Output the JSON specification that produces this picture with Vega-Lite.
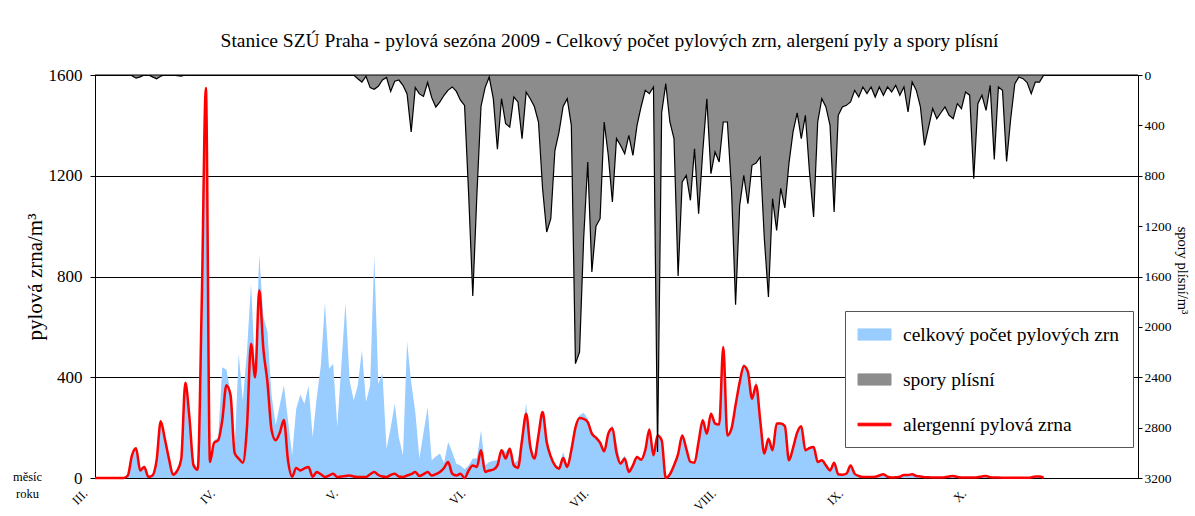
{
"$schema": "https://vega.github.io/schema/vega-lite/v6.json",
"width": 1043, "height": 403,
"autosize": {"type": "none"},
"padding": {"left": 95, "top": 75, "right": 57, "bottom": 38},
"background": "white",
"title": {"text": "Stanice SZÚ Praha - pylová sezóna 2009 - Celkový počet pylových zrn, alergení pyly a spory plísní", "font": "Liberation Serif", "fontSize": 19.5, "fontWeight": "normal", "color": "black", "anchor": "middle", "frame": "group", "offset": 15, "dx": -7},
"config": {
  "view": {"stroke": "black", "strokeWidth": 1},
  "axis": {"labelFont": "Liberation Serif", "titleFont": "Liberation Serif", "labelColor": "black", "titleColor": "black", "titleFontWeight": "normal", "domainColor": "black", "tickColor": "black"}
},
"data": {"values": [
{"date":"2009-03-01","t":0,"a":0,"m":0},{"date":"2009-03-02","t":0,"a":0,"m":0},{"date":"2009-03-03","t":0,"a":0,"m":0},{"date":"2009-03-04","t":0,"a":0,"m":0},{"date":"2009-03-05","t":0,"a":0,"m":0},{"date":"2009-03-06","t":0,"a":0,"m":0},{"date":"2009-03-07","t":0,"a":0,"m":0},{"date":"2009-03-08","t":0,"a":0,"m":0},
{"date":"2009-03-09","t":15,"a":10,"m":0},{"date":"2009-03-10","t":100,"a":90,"m":5},{"date":"2009-03-11","t":125,"a":118,"m":25},{"date":"2009-03-12","t":40,"a":30,"m":15},{"date":"2009-03-13","t":50,"a":44,"m":0},{"date":"2009-03-14","t":10,"a":4,"m":0},{"date":"2009-03-15","t":15,"a":10,"m":15},{"date":"2009-03-16","t":78,"a":70,"m":30},{"date":"2009-03-17","t":232,"a":225,"m":10},{"date":"2009-03-18","t":165,"a":156,"m":0},{"date":"2009-03-19","t":85,"a":77,"m":0},{"date":"2009-03-20","t":20,"a":13,"m":0},{"date":"2009-03-21","t":35,"a":28,"m":5},{"date":"2009-03-22","t":85,"a":75,"m":10},{"date":"2009-03-23","t":385,"a":378,"m":0},{"date":"2009-03-24","t":250,"a":240,"m":0},{"date":"2009-03-25","t":60,"a":50,"m":0},{"date":"2009-03-26","t":40,"a":33,"m":0},{"date":"2009-03-27","t":720,"a":700,"m":0},{"date":"2009-03-28","t":1550,"a":1548,"m":0},{"date":"2009-03-29","t":75,"a":64,"m":0},{"date":"2009-03-30","t":150,"a":140,"m":0},{"date":"2009-03-31","t":160,"a":150,"m":0},
{"date":"2009-04-01","t":440,"a":230,"m":0},{"date":"2009-04-02","t":430,"a":368,"m":0},{"date":"2009-04-03","t":340,"a":330,"m":0},{"date":"2009-04-04","t":110,"a":100,"m":0},{"date":"2009-04-05","t":493,"a":77,"m":0},{"date":"2009-04-06","t":308,"a":61,"m":0},{"date":"2009-04-07","t":500,"a":200,"m":0},{"date":"2009-04-08","t":771,"a":533,"m":0},{"date":"2009-04-09","t":420,"a":400,"m":0},{"date":"2009-04-10","t":886,"a":745,"m":0},{"date":"2009-04-11","t":640,"a":513,"m":0},{"date":"2009-04-12","t":580,"a":380,"m":0},{"date":"2009-04-13","t":330,"a":190,"m":0},{"date":"2009-04-14","t":209,"a":150,"m":0},{"date":"2009-04-15","t":290,"a":180,"m":0},{"date":"2009-04-16","t":368,"a":230,"m":0},{"date":"2009-04-17","t":230,"a":70,"m":0},{"date":"2009-04-18","t":90,"a":5,"m":0},{"date":"2009-04-19","t":275,"a":40,"m":0},{"date":"2009-04-20","t":331,"a":30,"m":0},{"date":"2009-04-21","t":295,"a":38,"m":0},{"date":"2009-04-22","t":365,"a":44,"m":0},{"date":"2009-04-23","t":163,"a":5,"m":0},{"date":"2009-04-24","t":320,"a":24,"m":0},{"date":"2009-04-25","t":447,"a":15,"m":0},{"date":"2009-04-26","t":696,"a":4,"m":0},{"date":"2009-04-27","t":434,"a":10,"m":0},{"date":"2009-04-28","t":454,"a":17,"m":0},{"date":"2009-04-29","t":202,"a":4,"m":0},{"date":"2009-04-30","t":450,"a":6,"m":0},
{"date":"2009-05-01","t":696,"a":8,"m":0},{"date":"2009-05-02","t":388,"a":10,"m":0},{"date":"2009-05-03","t":308,"a":6,"m":0},{"date":"2009-05-04","t":368,"a":4,"m":30},{"date":"2009-05-05","t":507,"a":4,"m":56},{"date":"2009-05-06","t":302,"a":4,"m":10},{"date":"2009-05-07","t":368,"a":15,"m":100},{"date":"2009-05-08","t":884,"a":24,"m":114},{"date":"2009-05-09","t":374,"a":12,"m":90},{"date":"2009-05-10","t":414,"a":6,"m":40},{"date":"2009-05-11","t":116,"a":4,"m":20},{"date":"2009-05-12","t":200,"a":12,"m":130},{"date":"2009-05-13","t":295,"a":17,"m":50},{"date":"2009-05-14","t":160,"a":6,"m":40},{"date":"2009-05-15","t":90,"a":4,"m":82},{"date":"2009-05-16","t":542,"a":10,"m":150},{"date":"2009-05-17","t":380,"a":15,"m":453},{"date":"2009-05-18","t":262,"a":24,"m":100},{"date":"2009-05-19","t":77,"a":8,"m":150},{"date":"2009-05-20","t":180,"a":15,"m":170},{"date":"2009-05-21","t":282,"a":24,"m":60},{"date":"2009-05-22","t":70,"a":10,"m":180},{"date":"2009-05-23","t":85,"a":15,"m":254},{"date":"2009-05-24","t":97,"a":24,"m":214},{"date":"2009-05-25","t":60,"a":40,"m":161},{"date":"2009-05-26","t":143,"a":64,"m":120},{"date":"2009-05-27","t":103,"a":17,"m":95},{"date":"2009-05-28","t":57,"a":10,"m":130},{"date":"2009-05-29","t":50,"a":17,"m":200},{"date":"2009-05-30","t":35,"a":0,"m":241},{"date":"2009-05-31","t":50,"a":30,"m":950},
{"date":"2009-06-01","t":77,"a":50,"m":1755},{"date":"2009-06-02","t":77,"a":44,"m":950},{"date":"2009-06-03","t":189,"a":110,"m":250},{"date":"2009-06-04","t":50,"a":24,"m":100},{"date":"2009-06-05","t":64,"a":30,"m":16},{"date":"2009-06-06","t":68,"a":33,"m":188},{"date":"2009-06-07","t":70,"a":50,"m":590},{"date":"2009-06-08","t":116,"a":110,"m":188},{"date":"2009-06-09","t":103,"a":77,"m":386},{"date":"2009-06-10","t":123,"a":116,"m":413},{"date":"2009-06-11","t":60,"a":50,"m":175},{"date":"2009-06-12","t":70,"a":40,"m":214},{"date":"2009-06-13","t":183,"a":150,"m":505},{"date":"2009-06-14","t":295,"a":255,"m":135},{"date":"2009-06-15","t":135,"a":125,"m":188},{"date":"2009-06-16","t":90,"a":77,"m":250},{"date":"2009-06-17","t":180,"a":170,"m":373},{"date":"2009-06-18","t":265,"a":262,"m":903},{"date":"2009-06-19","t":156,"a":143,"m":1247},{"date":"2009-06-20","t":90,"a":85,"m":1141},{"date":"2009-06-21","t":55,"a":50,"m":600},{"date":"2009-06-22","t":44,"a":37,"m":453},{"date":"2009-06-23","t":103,"a":79,"m":250},{"date":"2009-06-24","t":50,"a":44,"m":188},{"date":"2009-06-25","t":130,"a":110,"m":400},{"date":"2009-06-26","t":210,"a":200,"m":2292},{"date":"2009-06-27","t":249,"a":238,"m":2200},{"date":"2009-06-28","t":259,"a":235,"m":1300},{"date":"2009-06-29","t":235,"a":222,"m":691},{"date":"2009-06-30","t":183,"a":176,"m":1564},
{"date":"2009-07-01","t":165,"a":160,"m":1200},{"date":"2009-07-02","t":145,"a":140,"m":1141},{"date":"2009-07-03","t":115,"a":106,"m":373},{"date":"2009-07-04","t":183,"a":176,"m":638},{"date":"2009-07-05","t":209,"a":198,"m":1008},{"date":"2009-07-06","t":140,"a":100,"m":505},{"date":"2009-07-07","t":64,"a":57,"m":560},{"date":"2009-07-08","t":90,"a":77,"m":625},{"date":"2009-07-09","t":37,"a":24,"m":479},{"date":"2009-07-10","t":50,"a":50,"m":638},{"date":"2009-07-11","t":90,"a":83,"m":400},{"date":"2009-07-12","t":75,"a":72,"m":250},{"date":"2009-07-13","t":120,"a":110,"m":122},{"date":"2009-07-14","t":202,"a":193,"m":148},{"date":"2009-07-15","t":90,"a":90,"m":95},{"date":"2009-07-16","t":176,"a":169,"m":2994},{"date":"2009-07-17","t":156,"a":150,"m":300},{"date":"2009-07-18","t":4,"a":0,"m":69},{"date":"2009-07-19","t":20,"a":15,"m":373},{"date":"2009-07-20","t":50,"a":50,"m":505},{"date":"2009-07-21","t":100,"a":95,"m":1596},{"date":"2009-07-22","t":176,"a":169,"m":850},{"date":"2009-07-23","t":123,"a":116,"m":797},{"date":"2009-07-24","t":64,"a":64,"m":995},{"date":"2009-07-25","t":64,"a":61,"m":585},{"date":"2009-07-26","t":150,"a":145,"m":1101},{"date":"2009-07-27","t":235,"a":229,"m":611},{"date":"2009-07-28","t":183,"a":176,"m":188},{"date":"2009-07-29","t":262,"a":255,"m":783},{"date":"2009-07-30","t":222,"a":216,"m":611},{"date":"2009-07-31","t":216,"a":212,"m":691},
{"date":"2009-08-01","t":520,"a":520,"m":373},{"date":"2009-08-02","t":169,"a":169,"m":373},{"date":"2009-08-03","t":202,"a":196,"m":903},{"date":"2009-08-04","t":300,"a":290,"m":1824},{"date":"2009-08-05","t":400,"a":380,"m":1035},{"date":"2009-08-06","t":455,"a":445,"m":797},{"date":"2009-08-07","t":430,"a":421,"m":1022},{"date":"2009-08-08","t":321,"a":315,"m":717},{"date":"2009-08-09","t":388,"a":368,"m":700},{"date":"2009-08-10","t":235,"a":229,"m":651},{"date":"2009-08-11","t":110,"a":97,"m":1300},{"date":"2009-08-12","t":156,"a":156,"m":1763},{"date":"2009-08-13","t":116,"a":110,"m":982},{"date":"2009-08-14","t":216,"a":216,"m":1234},{"date":"2009-08-15","t":216,"a":216,"m":900},{"date":"2009-08-16","t":209,"a":206,"m":1056},{"date":"2009-08-17","t":75,"a":70,"m":700},{"date":"2009-08-18","t":130,"a":120,"m":450},{"date":"2009-08-19","t":185,"a":180,"m":300},{"date":"2009-08-20","t":205,"a":205,"m":505},{"date":"2009-08-21","t":115,"a":110,"m":320},{"date":"2009-08-22","t":122,"a":119,"m":770},{"date":"2009-08-23","t":125,"a":123,"m":1128},{"date":"2009-08-24","t":66,"a":64,"m":373},{"date":"2009-08-25","t":72,"a":70,"m":188},{"date":"2009-08-26","t":52,"a":50,"m":254},{"date":"2009-08-27","t":32,"a":30,"m":400},{"date":"2009-08-28","t":62,"a":61,"m":1088},{"date":"2009-08-29","t":17,"a":15,"m":320},{"date":"2009-08-30","t":15,"a":13,"m":254},{"date":"2009-08-31","t":20,"a":17,"m":241},
{"date":"2009-09-01","t":52,"a":50,"m":214},{"date":"2009-09-02","t":20,"a":17,"m":122},{"date":"2009-09-03","t":10,"a":8,"m":175},{"date":"2009-09-04","t":6,"a":4,"m":95},{"date":"2009-09-05","t":6,"a":4,"m":148},{"date":"2009-09-06","t":5,"a":4,"m":95},{"date":"2009-09-07","t":6,"a":5,"m":175},{"date":"2009-09-08","t":10,"a":10,"m":95},{"date":"2009-09-09","t":16,"a":15,"m":161},{"date":"2009-09-10","t":7,"a":5,"m":95},{"date":"2009-09-11","t":4,"a":2,"m":135},{"date":"2009-09-12","t":4,"a":3,"m":82},{"date":"2009-09-13","t":6,"a":5,"m":161},{"date":"2009-09-14","t":13,"a":12,"m":95},{"date":"2009-09-15","t":13,"a":12,"m":294},{"date":"2009-09-16","t":15,"a":15,"m":56},{"date":"2009-09-17","t":9,"a":8,"m":120},{"date":"2009-09-18","t":7,"a":6,"m":250},{"date":"2009-09-19","t":4,"a":3,"m":559},{"date":"2009-09-20","t":4,"a":3,"m":413},{"date":"2009-09-21","t":3,"a":2,"m":267},{"date":"2009-09-22","t":3,"a":2,"m":347},{"date":"2009-09-23","t":3,"a":2,"m":300},{"date":"2009-09-24","t":4,"a":3,"m":254},{"date":"2009-09-25","t":7,"a":6,"m":320},{"date":"2009-09-26","t":9,"a":8,"m":347},{"date":"2009-09-27","t":5,"a":4,"m":228},{"date":"2009-09-28","t":3,"a":2,"m":267},{"date":"2009-09-29","t":3,"a":2,"m":135},{"date":"2009-09-30","t":3,"a":2,"m":160},
{"date":"2009-10-01","t":3,"a":2,"m":823},{"date":"2009-10-02","t":4,"a":3,"m":228},{"date":"2009-10-03","t":7,"a":6,"m":161},{"date":"2009-10-04","t":9,"a":8,"m":281},{"date":"2009-10-05","t":4,"a":3,"m":82},{"date":"2009-10-06","t":3,"a":2,"m":670},{"date":"2009-10-07","t":3,"a":2,"m":95},{"date":"2009-10-08","t":2,"a":1,"m":122},{"date":"2009-10-09","t":2,"a":1,"m":686},{"date":"2009-10-10","t":2,"a":1,"m":347},{"date":"2009-10-11","t":2,"a":1,"m":69},{"date":"2009-10-12","t":2,"a":1,"m":16},{"date":"2009-10-13","t":2,"a":1,"m":29},{"date":"2009-10-14","t":2,"a":1,"m":60},{"date":"2009-10-15","t":3,"a":2,"m":148},{"date":"2009-10-16","t":7,"a":6,"m":56},{"date":"2009-10-17","t":7,"a":6,"m":56},{"date":"2009-10-18","t":2,"a":1,"m":3},
{"date":"2009-10-19","t":0,"a":null,"m":0},{"date":"2009-10-20","t":0,"a":null,"m":0},{"date":"2009-10-21","t":0,"a":null,"m":0},{"date":"2009-10-22","t":0,"a":null,"m":0},{"date":"2009-10-23","t":0,"a":null,"m":0},{"date":"2009-10-24","t":0,"a":null,"m":0},{"date":"2009-10-25","t":0,"a":null,"m":0},{"date":"2009-10-26","t":0,"a":null,"m":0},{"date":"2009-10-27","t":0,"a":null,"m":0},{"date":"2009-10-28","t":0,"a":null,"m":0},{"date":"2009-10-29","t":0,"a":null,"m":0},{"date":"2009-10-30","t":0,"a":null,"m":0},{"date":"2009-10-31","t":0,"a":null,"m":0},
{"date":"2009-11-01","t":0,"a":null,"m":0},{"date":"2009-11-02","t":0,"a":null,"m":0},{"date":"2009-11-03","t":0,"a":null,"m":0},{"date":"2009-11-04","t":0,"a":null,"m":0},{"date":"2009-11-05","t":0,"a":null,"m":0},{"date":"2009-11-06","t":0,"a":null,"m":0},{"date":"2009-11-07","t":0,"a":null,"m":0},{"date":"2009-11-08","t":0,"a":null,"m":0},{"date":"2009-11-09","t":0,"a":null,"m":0},{"date":"2009-11-10","t":0,"a":null,"m":0}
]},
"layer": [
  {"layer": [
    {"mark": {"type": "area", "opacity": 1, "interpolate": "linear"},
     "encoding": {
       "x": {"field": "date", "type": "temporal",
             "scale": {"type": "utc", "domain": [{"year": 2009, "month": 3, "date": 1, "utc": true}, {"year": 2009, "month": 11, "date": 10, "utc": true}]},
             "axis": {"values": [{"year": 2009, "month": 3, "date": 1, "utc": true}, {"year": 2009, "month": 4, "date": 1, "utc": true}, {"year": 2009, "month": 5, "date": 1, "utc": true}, {"year": 2009, "month": 6, "date": 1, "utc": true}, {"year": 2009, "month": 7, "date": 1, "utc": true}, {"year": 2009, "month": 8, "date": 1, "utc": true}, {"year": 2009, "month": 9, "date": 1, "utc": true}, {"year": 2009, "month": 10, "date": 1, "utc": true}],
                      "labelExpr": "['I.','II.','III.','IV.','V.','VI.','VII.','VIII.','IX.','X.','XI.','XII.'][utcmonth(datum.value)]",
                      "labelAngle": -45, "labelAlign": "right", "labelBaseline": "middle", "labelFontSize": 12.5, "labelPadding": 13, "labelOffset": -10,
                      "ticks": false, "grid": false, "domain": true, "labelOverlap": false,
                      "title": ["měsíc", "roku"], "titleX": -68, "titleY": -8, "titleAlign": "center", "titleBaseline": "top", "titleFontSize": 12.5, "titleLineHeight": 17, "titleAngle": 0}},
       "y": {"field": "t", "type": "quantitative", "scale": {"domain": [0, 1600], "nice": false},
             "axis": {"values": [0, 400, 800, 1200, 1600], "format": "d", "grid": true, "gridColor": "#000", "gridWidth": 1, "gridOpacity": 1, "tickSize": 5, "labelFontSize": 17, "labelPadding": 8, "title": "pylová zrna/m³", "titleFontSize": 21, "titlePadding": 3}},
       "color": {"datum": "celkový počet pylových zrn", "type": "nominal",
                 "scale": {"domain": ["celkový počet pylových zrn", "spory plísní", "alergenní pylová zrna"], "range": ["#99ccff", "#8c8c8c", "#ff0000"]},
                 "legend": {"orient": "none", "legendX": 750, "legendY": 236, "direction": "vertical", "title": null,
                            "labelFont": "Liberation Serif", "labelFontSize": 19.5, "labelColor": "black", "labelLimit": 400, "labelOffset": 18,
                            "symbolSize": 400, "symbolOffset": 6, "symbolType": "M-1.65,-0.56H1.65V0.56H-1.65Z", "padding": 13, "rowPadding": 25,
                            "strokeColor": "#555", "fillColor": "white",
                            "encoding": {"symbols": {
                              "shape": {"value": {"expr": "datum.value === 'alergenní pylová zrna' ? 'M-1.65,-0.13H1.65V0.13H-1.65Z' : 'M-1.65,-0.56H1.65V0.56H-1.65Z'"}},
                              "fill": {"value": {"expr": "datum.value === 'spory plísní' ? '#8c8c8c' : datum.value === 'alergenní pylová zrna' ? '#ff0000' : '#99ccff'"}},
                              "stroke": {"value": {"expr": "datum.value === 'spory plísní' ? 'black' : 'transparent'"}},
                              "strokeWidth": {"value": 1},
                              "opacity": {"value": 1}
                            }}}}
     }},
    {"mark": {"type": "line", "strokeWidth": 2.5, "interpolate": "monotone"},
     "encoding": {
       "x": {"field": "date", "type": "temporal"},
       "y": {"field": "a", "type": "quantitative", "scale": {"domain": [0, 1600], "nice": false}, "title": "pylová zrna/m³"},
       "color": {"datum": "alergenní pylová zrna", "type": "nominal"}
     }}
  ]},
  {"mark": {"type": "area", "opacity": 1, "stroke": "black", "strokeWidth": 1.2, "interpolate": "linear"},
   "encoding": {
     "x": {"field": "date", "type": "temporal"},
     "y": {"field": "m", "type": "quantitative", "scale": {"domain": [0, 3200], "reverse": true, "nice": false},
           "axis": {"orient": "right", "values": [0, 400, 800, 1200, 1600, 2000, 2400, 2800, 3200], "format": "d", "grid": false, "tickSize": 4, "labelFontSize": 13.5, "labelPadding": 2, "title": "spory plísní/m³", "titleFontSize": 14.5, "titlePadding": 3, "titleY": 195}},
     "color": {"datum": "spory plísní", "type": "nominal"}
   }}
],
"resolve": {"scale": {"y": "independent"}}
}
